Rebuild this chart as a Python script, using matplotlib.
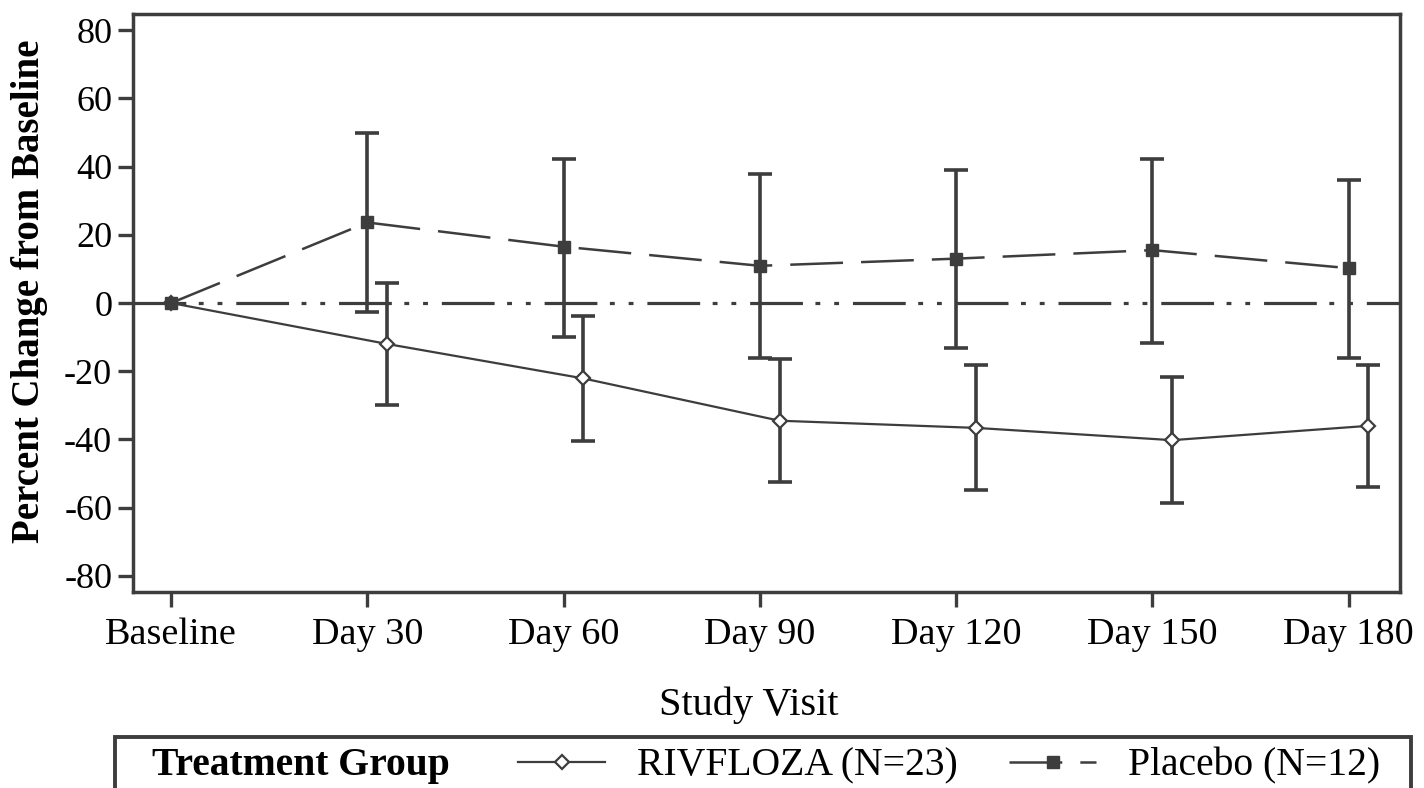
import numpy as np
import matplotlib
matplotlib.use("Agg")
import matplotlib.pyplot as plt
from matplotlib.patches import Rectangle

plt.rcParams['font.family'] = ['Liberation Serif', 'DejaVu Serif']
plt.rcParams['lines.scale_dashes'] = False
plt.rcParams['axes.unicode_minus'] = False

visits = ["Baseline", "Day 30", "Day 60", "Day 90", "Day 120", "Day 150", "Day 180"]

# RIVFLOZA (N=23): mean and error bar limits
riv_mean = [0, -12.0, -22.1, -34.5, -36.6, -40.2, -36.0]
riv_upper = [0, 5.8, -3.8, -16.5, -18.2, -21.8, -18.2]
riv_lower = [0, -29.9, -40.4, -52.4, -54.8, -58.6, -54.0]

# Placebo (N=12)
pbo_mean = [0, 23.6, 16.5, 10.9, 13.0, 15.5, 10.2]
pbo_upper = [0, 49.9, 42.1, 37.8, 39.0, 42.2, 36.1]
pbo_lower = [0, -2.6, -10.1, -16.2, -13.1, -11.8, -16.2]

dark = "#3d3d3d"

fig = plt.figure(figsize=(14.24, 7.88), dpi=100)
ax = fig.add_axes([133 / 1424, 1 - 592 / 788, (1400 - 133) / 1424, (592 - 14) / 788])

idx = np.arange(len(visits))
x_pbo = idx.astype(float)
x_riv = idx + np.where(idx > 0, 0.1, 0.0)  # small horizontal shift after baseline

riv_mean = np.array(riv_mean)
pbo_mean = np.array(pbo_mean)

# reference line at zero (long dash, dot, dot)
ax.axhline(0, color=dark, lw=2.3, linestyle=(0, (38, 9, 3.5, 10, 3.5, 10)), zorder=1)

# error bars (skip baseline)
m = idx > 0
ax.errorbar(x_pbo[m], pbo_mean[m],
            yerr=[pbo_mean[m] - np.array(pbo_lower)[m], np.array(pbo_upper)[m] - pbo_mean[m]],
            fmt='none', ecolor=dark, elinewidth=2.6, capsize=8.5, capthick=2.6, zorder=2)
ax.errorbar(x_riv[m], riv_mean[m],
            yerr=[riv_mean[m] - np.array(riv_lower)[m], np.array(riv_upper)[m] - riv_mean[m]],
            fmt='none', ecolor=dark, elinewidth=2.6, capsize=8.5, capthick=2.6, zorder=2)

riv_line, = ax.plot(x_riv, riv_mean, color=dark, lw=1.6, marker='D', ms=7.5,
                    mfc='white', mec=dark, mew=1.6, label="RIVFLOZA (N=23)", zorder=3)
pbo_line, = ax.plot(x_pbo, pbo_mean, color=dark, lw=1.8, linestyle=(0, (38, 13)),
                    marker='s', ms=8.5, mfc=dark, mec=dark, label="Placebo (N=12)", zorder=3)

ax.set_xlim(-0.194, 6.261)
ax.set_ylim(-84.7, 84.7)
ax.set_xticks(idx)
ax.set_xticklabels(visits, fontsize=27.5)
ax.set_yticks(np.arange(-80, 81, 20))
ax.tick_params(axis='y', labelsize=26, length=11, width=2.4, color=dark, pad=4)
ax.tick_params(axis='x', length=11, width=2.4, color=dark, pad=7)
for s in ax.spines.values():
    s.set_color(dark)
    s.set_linewidth(2.5)

ax.set_ylabel("Percent Change from Baseline", fontsize=28, fontweight='bold')
ax.yaxis.set_label_coords(-0.067, 0.521)
fig.text(749 / 1424, 1 - 705 / 788, "Study Visit", fontsize=29,
         ha='center', va='center')

# legend box at the bottom (runs off the bottom edge)
fig.patches.append(Rectangle((115 / 1424, -0.05), (1411 - 115) / 1424, 0.05 + 1 - 737 / 788,
                             transform=fig.transFigure, fill=False, ec=dark, lw=2.8))
fig.text(152 / 1424, 1 - 765 / 788, "Treatment Group", fontsize=28.5, fontweight='bold',
         ha='left', va='center')
fig.legend(handles=[riv_line, pbo_line], loc='center left',
           bbox_to_anchor=(518 / 1424, 1 - 766 / 788), ncol=2, frameon=False,
           fontsize=28.5, handlelength=2.2, handletextpad=0.8, columnspacing=1.3,
           borderpad=0, borderaxespad=0)

fig.savefig("out.png", dpi=100)
